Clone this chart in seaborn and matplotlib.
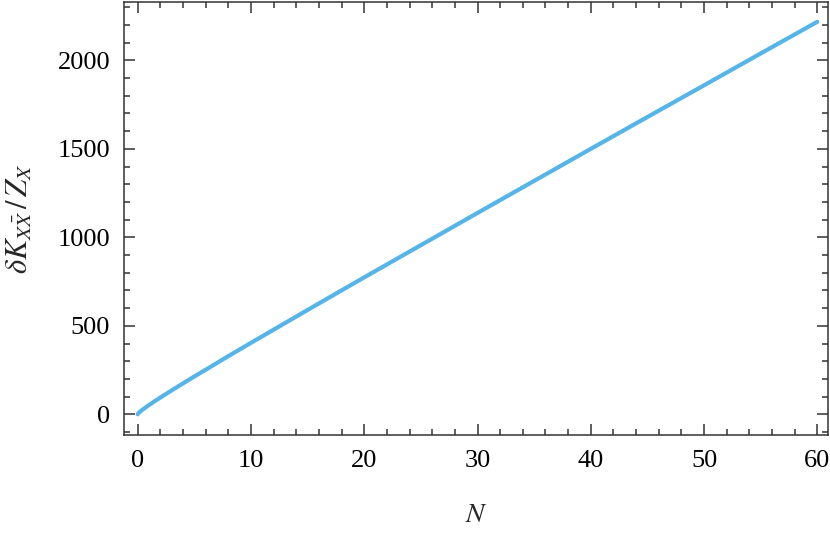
import matplotlib
matplotlib.use("Agg")
import matplotlib.pyplot as plt
import seaborn as sns
import pandas as pd
from matplotlib.ticker import MultipleLocator

# Data
N_values = [0, 0.05, 0.1, 0.25, 0.5, 1, 1.5, 2, 3, 4, 5, 6, 8, 10, 15, 20, 25, 30, 35, 40, 45, 50, 55, 60]
dK_values = [0, 5.8, 9.3, 17.8, 30.2, 52.9, 74.3, 95.1, 135.5, 175, 214, 252, 329, 404, 590, 774, 956, 1138, 1319, 1500, 1680, 1859, 2039, 2218]

x_major_ticks = [0, 10, 20, 30, 40, 50, 60]
y_major_ticks = [0, 500, 1000, 1500, 2000]

sns.set_style("ticks")
plt.rcParams["font.family"] = ["Liberation Serif", "DejaVu Serif"]
plt.rcParams["mathtext.fontset"] = "stix"

df = pd.DataFrame({"N": N_values, "dK": dK_values})

fig = plt.figure(figsize=(8.3, 5.42), dpi=100)
ax = fig.add_axes([124 / 830, 1 - 435 / 542, (828 - 124) / 830, (435 - 2) / 542])

sns.lineplot(data=df, x="N", y="dK", ax=ax, color="#56B4E9", linewidth=3.0)

ax.set_xlim(-1.22, 60.95)
ax.set_ylim(-117, 2330)
ax.set_xticks(x_major_ticks)
ax.set_yticks(y_major_ticks)
ax.xaxis.set_minor_locator(MultipleLocator(2))
ax.yaxis.set_minor_locator(MultipleLocator(100))

for s in ax.spines.values():
    s.set_visible(True)
    s.set_color("#333333")
    s.set_linewidth(1.1)

ax.tick_params(which="both", direction="in", top=True, right=True, colors="#333333",
               labelcolor="black", labelsize=19, width=1.1)
ax.tick_params(which="major", length=8)
ax.tick_params(which="minor", length=4.5)
ax.tick_params(axis="x", which="major", pad=11)
ax.tick_params(axis="y", which="major", pad=10)

ax.set_xlabel(r"$N$", fontsize=20, labelpad=22)
ax.set_ylabel(r"$\delta K_{X\bar{X}}\,/\,Z_X$", fontsize=22, labelpad=16)

fig.savefig("out.png", dpi=100)
